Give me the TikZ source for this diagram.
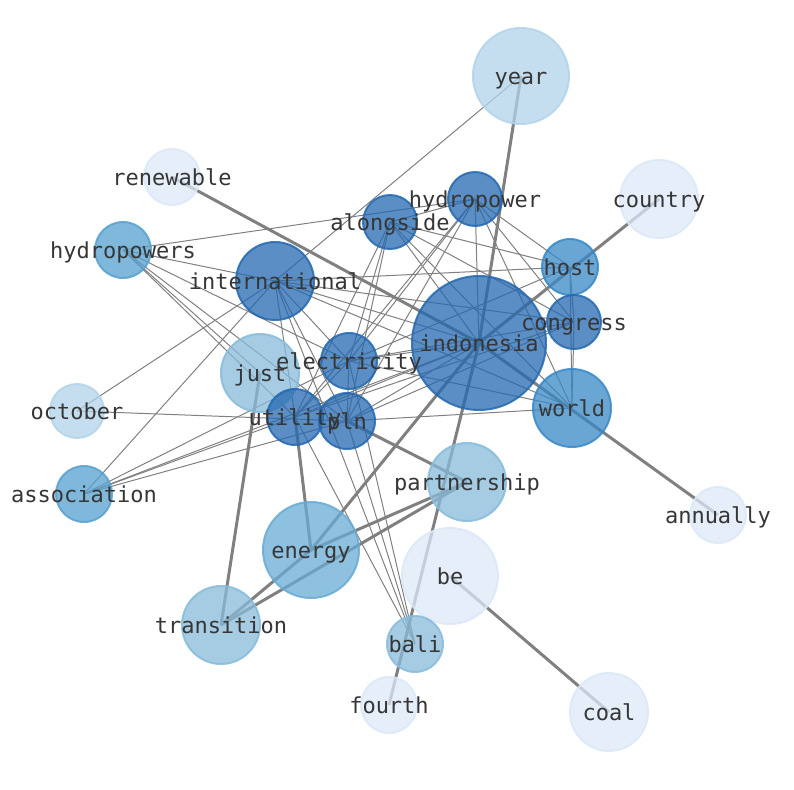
\documentclass[tikz,border=0pt]{standalone}
\usepackage{fontspec}
\setmonofont{DejaVu Sans Mono}
\pgfdeclarelayer{edges}
\pgfdeclarelayer{labels}
\pgfsetlayers{edges,main,labels}
\definecolor{cA}{HTML}{2468B0}
\definecolor{cB}{HTML}{3888C6}
\definecolor{cC}{HTML}{56A0CF}
\definecolor{cD}{HTML}{68ABD4}
\definecolor{cE}{HTML}{87BBDA}
\definecolor{cF}{HTML}{B2D3EA}
\definecolor{cG}{HTML}{DCE8F7}
\definecolor{edgegray}{HTML}{808080}
\definecolor{txt}{HTML}{363636}
\begin{document}
\begin{tikzpicture}[x=0.75pt,y=-0.75pt,
  vtx/.style 2 args={circle, inner sep=0pt, minimum size=#1*1.5pt, line width=1.5pt,
     fill=#2, draw=#2, fill opacity=0.75, draw opacity=0.85},
  lbl/.style={font=\ttfamily\fontsize{16.5}{16.5}\selectfont, text=txt, inner sep=0pt, anchor=base},
  thin/.style={draw=edgegray, line width=0.75pt},
  thick/.style={draw=edgegray, line width=2.25pt}]
\useasboundingbox (0,0) rectangle (794,790);
\foreach \n/\x/\y/\r/\c in {
  year/521/76/48/cF, renewable/172/177/28/cG, hydropower/475/199/27/cA,
  country/659/199/39/cG, alongside/390/222/27/cA, hydropowers/123/250/28/cC,
  international/275/281/39/cA, host/570/267/28/cB, congress/574/322/27/cA,
  indonesia/479/343/67/cA, electricity/349/361/28/cA, just/260/373/39/cE,
  october/77/411/27/cF, utility/295/417/28/cA, pln/347/421/28/cA,
  world/572/408/39/cB, partnership/467/482/39/cE, association/84/494/28/cC,
  annually/718/515/28/cG, energy/311/550/48/cD, be/450/576/48/cG,
  transition/221/625/39/cE, bali/415/644/28/cE, fourth/389/705/28/cG,
  coal/609/712/39/cG}
{
  \node[vtx={\r}{\c}] (\n) at (\x,\y) {};
  \begin{pgfonlayer}{labels}
    \node[lbl] (t-\n) at (\x,\y+8) {\n};
  \end{pgfonlayer}
}
\begin{pgfonlayer}{edges}
\foreach \a/\b in {
  hydropowers/hydropower, hydropowers/international, hydropowers/electricity,
  hydropowers/pln, hydropowers/just, hydropowers/utility,
  october/international, october/pln,
  association/international, association/electricity, association/utility,
  association/pln, association/indonesia,
  year/international,
  international/electricity, international/pln, international/utility,
  international/bali, international/indonesia, international/congress,
  international/world, international/host,
  alongside/electricity, alongside/pln, alongside/utility, alongside/indonesia,
  alongside/host, alongside/congress, alongside/world, alongside/hydropower,
  hydropower/electricity, hydropower/pln, hydropower/utility, hydropower/indonesia,
  hydropower/host, hydropower/congress, hydropower/world,
  electricity/indonesia, electricity/host, electricity/congress, electricity/world,
  electricity/pln, electricity/utility, electricity/bali,
  pln/world, pln/congress, pln/indonesia, pln/bali,
  utility/bali, utility/congress, utility/indonesia,
  host/congress, host/world, congress/world}
  \draw[thin] (\a.center) -- (\b.center);
\foreach \a/\b in {
  year/indonesia, renewable/indonesia, indonesia/annually, country/indonesia,
  energy/indonesia, fourth/indonesia, just/transition, utility/energy,
  pln/partnership, transition/partnership, energy/partnership,
  transition/energy, be/coal}
  \draw[thick] (\a.center) -- (\b.center);
\end{pgfonlayer}
\end{tikzpicture}
\end{document}
